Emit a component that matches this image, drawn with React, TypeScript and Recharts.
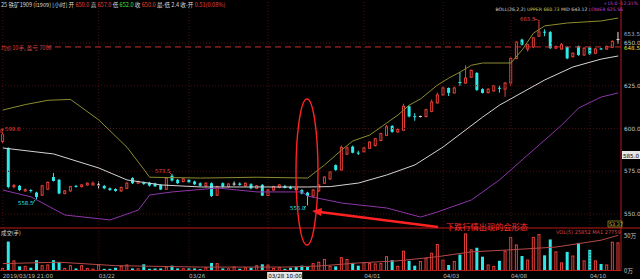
import React from "react";
import { Bar, ComposedChart, Line, ReferenceLine, XAxis, YAxis } from "recharts";

// hourly candles, i1909 iron ore
const OPEN = [
  592.4, 588.6, 566, 566.5, 563.5, 564, 562.5, 561, 564.5, 571.6,
  570, 562, 563.5, 566.4, 566, 567, 567, 567, 566.4, 565,
  564.6, 563.5, 565, 571, 568, 568.3, 568.3, 567.8, 567, 564.5,
  572.4, 570, 569, 570, 569, 568, 566.5, 568, 561, 568,
  566, 567.5, 567.8, 566.5, 567.4, 565, 567, 560.8, 564, 565.5,
  566.3, 565.8, 565.4, 564, 562.5, 560.5, 563.5, 568, 570.5, 578.6,
  575.7, 585, 589.4, 585.9, 586.3, 588.4, 590, 593, 596, 601.5,
  598, 599, 613, 607.2, 607, 607, 610, 615, 619.6, 623.7,
  620.8, 627.2, 626.6, 630, 632.5, 623, 621, 622, 623.8, 623,
  626.6, 641, 652, 646.5, 647.7, 654, 656.6, 656.4, 647, 646.5,
  647.7, 642, 648, 643, 647.5, 644, 646.8, 646.5, 647.5, 652,
];
const HIGH = [
  599.6, 589, 567.5, 567, 565, 564.5, 563, 567, 569, 574,
  570.5, 564, 566.5, 567, 567.5, 568.5, 569, 569, 567, 565.5,
  565, 566, 568.5, 571.5, 569.5, 569, 568.8, 568.3, 567.5, 571.5,
  573.5, 570.5, 571, 570.5, 569.5, 568.5, 568.5, 568.5, 566.5, 568.5,
  568, 569, 568.5, 568.5, 568, 567, 567.5, 564.5, 566.5, 567.5,
  567, 566.5, 566, 564.5, 563, 564.5, 567.5, 572, 575, 579,
  590, 589.5, 590, 587, 589, 592.5, 594.5, 597.5, 602, 602,
  600, 614.5, 613.5, 609, 607.5, 611.5, 617, 621, 624.5, 624,
  624.5, 633, 637, 634.5, 633, 623.5, 623.5, 625.5, 625, 627,
  641.5, 651, 652.5, 649.5, 653.5, 663.5, 658, 657, 648.5, 650,
  648, 644.5, 648.5, 647.5, 648, 647, 647.2, 648.5, 651.5, 656.5,
];
const LOW = [
  591.5, 565, 565, 563.5, 563, 562.5, 558.5, 560.5, 564, 569,
  561.5, 561.5, 563, 565.5, 565.5, 566.5, 566.5, 564.5, 564.5, 563.5,
  563, 563, 564.5, 567.5, 567.5, 567, 566, 565.8, 564, 564,
  569, 567.5, 568.5, 568, 567, 566, 566, 560, 560.5, 565.5,
  565.5, 566.5, 566.5, 566, 564.5, 564.5, 560.5, 560.5, 563.5, 565,
  565, 564.5, 563.5, 561.5, 555, 559.5, 563, 567.5, 570, 575,
  575.5, 584.5, 585.5, 584.5, 586, 588, 589.5, 592.5, 595.5, 597.5,
  597.5, 598.5, 606.5, 604.5, 606.5, 606.5, 609.5, 614.5, 619, 619,
  620.5, 625, 626, 629.5, 622, 620.5, 620.5, 621.5, 621, 618.5,
  625, 640.5, 648.5, 645, 647, 653.5, 654, 646.5, 646.5, 646,
  640.5, 641.5, 642.5, 642.5, 643, 643.5, 646, 646, 647, 649.5,
];
const CLOSE = [
  596.5, 565.8, 566.6, 564, 564.2, 563.6, 560, 566.5, 568.5, 569.3,
  562, 563.5, 566, 565.8, 567, 568, 568, 567, 565, 564,
  563.5, 565.5, 568, 568, 569, 567.6, 566.6, 566.2, 564.3, 571,
  569.5, 568, 570.5, 568.5, 567.4, 566.5, 568, 560.5, 566, 566,
  567.5, 567.5, 567, 568, 565, 566.5, 560.7, 564, 566, 567,
  565.2, 564.8, 564, 562, 560.5, 564, 567, 571.6, 574.6, 575.7,
  589, 588.6, 585.8, 585.5, 588.6, 592, 594, 597, 601, 598,
  599.5, 613, 607, 606.8, 607, 611, 615.5, 619.6, 623.7, 620.8,
  623.7, 626.8, 629.5, 634, 622.5, 620.8, 623, 625, 623.4, 626.6,
  641, 650.5, 649, 649, 653, 656.5, 656.2, 647, 648, 649,
  641, 644, 643, 647, 643.5, 646.5, 646.3, 648, 651, 652,
];
// volume in 万手
const VOLUME = [
  3, 42, 14, 6, 6, 4, 15, 7, 8, 15,
  12, 3, 7, 3, 7, 3, 2, 8, 2.4, 2.4,
  4, 6, 8, 3, 2.5, 9, 2.5, 3, 3, 5,
  7, 3, 2.5, 3, 3, 2, 4, 11, 10, 3,
  2.5, 5, 2.5, 4, 4, 7, 9, 8, 3, 4,
  2.5, 4, 5, 7, 5, 10, 12, 16, 6, 6,
  18.6, 16, 11, 7, 11, 10, 9.5, 10, 20, 15,
  6, 28, 14, 7, 13, 17.6, 25, 37.6, 15, 8,
  13, 23, 53, 30, 33, 20, 8, 6, 14, 28,
  48, 37, 21, 15, 48, 52, 22, 45, 27, 11,
  27, 21, 40, 14, 30, 14, 9.5, 8, 41, 40,
];

// BOLL(26,2,2): [candle index, price]
const BOLL_UPPER = [
  [0, 610.8], [4, 614], [8, 616.5], [12, 617], [17, 605], [22, 589], [25, 576],
  [26, 571.5], [35, 571], [45, 571.5], [54, 571], [57, 578.7], [60, 587.4],
  [62, 592.7], [65, 596.2], [68, 603.2], [70, 607.9], [72, 613.7], [74, 617.3],
  [77, 625.4], [79, 629.5], [81, 633], [83, 637], [85, 638.3], [90, 638.3],
  [92, 646], [94, 655.8], [96, 660], [100, 661.7], [106, 662.9], [109, 664.6],
];
const BOLL_MID = [
  [0, 588.6], [9, 585.1], [17, 576.9], [22, 569.9], [28, 567], [35, 565.8],
  [54, 565.8], [58, 566], [63, 568.1], [68, 572.8], [73, 578.7], [78, 589.2],
  [85, 606.7], [88, 613.7], [96, 628.4], [101, 636], [106, 640.6], [109, 642.4],
];
const BOLL_LOWER = [
  [0, 564], [5, 560], [11, 549.4], [19, 546.5], [24, 552.3], [26, 561.1],
  [30, 562.9], [38, 565.2], [45, 562.9], [53, 562.9], [54, 560.5], [60, 556.4],
  [68, 553.5], [74, 548.2], [77, 551.2], [83, 558.2], [88, 570], [95, 590.4],
  [99, 602], [102, 612], [106, 618.4], [109, 620.8],
];
const VOL_MA = [
  [0, 10], [10, 12], [20, 7], [35, 5], [50, 5], [56, 6.5], [63, 11], [70, 14],
  [77, 20], [83, 27], [90, 30], [98, 34], [106, 44], [109, 51],
];

const TICK_IDX = [0, 17, 33, 47, 64, 78, 90, 104];
const TICK_LABELS = ["2019/03/19 21:00", "03/22", "03/26", "03/28 10:00", "04/01", "04/03", "04/08", "04/10"];
const PRICE_TICKS = [550, 575, 600, 625, 650];
const VOL_TICKS = [0, 50];

const RED = "#e8403a";
const CYAN = "#30e8e8";
const AXIS = "#b81c1c";
const GRID = "#4a1010";
const FONT = '"DejaVu Sans", "Noto Sans CJK SC", sans-serif';
const CJK = '"Noto Sans CJK SC", sans-serif';

const N = OPEN.length;
const spread = (pts: number[][]) => {
  const arr: (number | null)[] = Array(N).fill(null);
  pts.forEach(([i, v]) => (arr[i] = v));
  return arr;
};
const upperArr = spread(BOLL_UPPER);
const midArr = spread(BOLL_MID);
const lowerArr = spread(BOLL_LOWER);
const vmaArr = spread(VOL_MA);

const rows = OPEN.map((o, i) => ({
  i,
  o,
  c: CLOSE[i],
  hl: [LOW[i], HIGH[i]],
  vol: VOLUME[i],
  upper: upperArr[i],
  mid: midArr[i],
  lower: lowerArr[i],
  vma: vmaArr[i],
}));

function Candle(props: any) {
  const { x, y, width, height, payload } = props;
  if (!payload) return null;
  const [lo, hi] = payload.hl;
  const top = Math.min(y, y + height);
  const h = Math.abs(height);
  const py = (v: number) => top + ((hi - v) / (hi - lo)) * h;
  const cx = x + width / 2;
  const yo = py(payload.o);
  const yc = py(payload.c);
  const bTop = Math.min(yo, yc);
  const bBot = Math.max(yo, yc);
  if (payload.c > payload.o) {
    return (
      <g stroke={RED} strokeWidth={1} fill="#000">
        <line x1={cx} x2={cx} y1={top} y2={bTop} />
        <line x1={cx} x2={cx} y1={bBot} y2={top + h} />
        <rect x={x + 0.5} y={bTop} width={width - 1} height={Math.max(bBot - bTop, 0.5)} />
      </g>
    );
  }
  if (payload.c < payload.o) {
    return (
      <g>
        <line x1={cx} x2={cx} y1={top} y2={top + h} stroke={CYAN} strokeWidth={1} />
        <rect x={x} y={bTop} width={width} height={Math.max(bBot - bTop, 1)} fill={CYAN} />
      </g>
    );
  }
  return (
    <g stroke="#e0e0e0" strokeWidth={1}>
      <line x1={cx} x2={cx} y1={top} y2={top + h} />
      <line x1={x} x2={x + width} y1={yo} y2={yo} />
    </g>
  );
}

function VolBar(props: any) {
  const { x, y, width, height, payload } = props;
  if (!payload) return null;
  const top = Math.min(y, y + height);
  const h = Math.abs(height);
  if (payload.c < payload.o) {
    return <rect x={x} y={top} width={width} height={h} fill={CYAN} />;
  }
  return (
    <rect x={x + 0.5} y={top} width={width - 1} height={h} fill="#000" stroke={RED} strokeWidth={1} />
  );
}

function DateTick(props: any) {
  const { x, y, payload } = props;
  const k = TICK_IDX.indexOf(payload.value);
  if (k < 0) return null;
  const label = TICK_LABELS[k];
  if (label === "03/28 10:00") {
    return (
      <g>
        <rect x={x - 1} y={y + 1.5} width={35} height={7} fill="#e6e6e6" />
        <text x={x} y={y + 7} fontSize={5.6} fontFamily={FONT} fill="#000">
          {label}
        </text>
      </g>
    );
  }
  return (
    <text x={x} y={y + 7} fontSize={5.6} fontFamily={FONT} fill="#bdbdbd">
      {label}
    </text>
  );
}

export default function App() {
  return (
    <div style={{ position: "fixed", left: 0, top: 0, width: 640, height: 279, background: "#000", overflow: "hidden" }}>
      <ComposedChart
        width={640}
        height={228}
        data={rows}
        margin={{ top: 0, right: 0, bottom: 0, left: 0 }}
        barCategoryGap="20%"
      >
        <XAxis dataKey="i" type="category" hide />
        <YAxis
          orientation="right"
          width={19}
          domain={[541.8, 675.15]}
          allowDataOverflow
          ticks={PRICE_TICKS}
          interval={0}
          tickLine={false}
          tickSize={0}
          tickMargin={3}
          axisLine={{ stroke: AXIS }}
          tick={{ fill: "#c8c8c8", fontSize: 5.8, fontFamily: FONT }}
          tickFormatter={(v: number) => v.toFixed(1)}
        />
        {PRICE_TICKS.map((p) => (
          <ReferenceLine key={p} y={p} stroke={GRID} strokeDasharray="1 2" />
        ))}
        {TICK_IDX.map((t) => (
          <ReferenceLine key={t} x={t} stroke={GRID} strokeDasharray="1 2" />
        ))}
        <ReferenceLine y={647.7} stroke="#c83030" strokeDasharray="6 4" />
        <Line dataKey="upper" type="linear" stroke="#8c8c30" strokeWidth={1} dot={false} activeDot={false} connectNulls isAnimationActive={false} />
        <Line dataKey="mid" type="linear" stroke="#d4d4d4" strokeWidth={1} dot={false} activeDot={false} connectNulls isAnimationActive={false} />
        <Line dataKey="lower" type="linear" stroke="#8e35a8" strokeWidth={1} dot={false} activeDot={false} connectNulls isAnimationActive={false} />
        <Bar dataKey="hl" shape={(p: any) => <Candle {...p} />} activeBar={false} isAnimationActive={false} />
      </ComposedChart>

      <div style={{ position: "absolute", left: 0, top: 228 }}>
        <ComposedChart
          width={640}
          height={51}
          data={rows}
          margin={{ top: 0, right: 0, bottom: 0, left: 0 }}
          barCategoryGap="20%"
        >
          <XAxis
            dataKey="i"
            type="category"
            ticks={TICK_IDX}
            interval={0}
            height={8.5}
            tickLine={false}
            tickSize={0}
            tickMargin={0}
            axisLine={{ stroke: AXIS }}
            tick={<DateTick />}
          />
          <YAxis
            orientation="right"
            width={19}
            domain={[0, 61.6]}
            allowDataOverflow
            ticks={VOL_TICKS}
            interval={0}
            tickLine={false}
            tickSize={0}
            tickMargin={3}
            axisLine={{ stroke: AXIS }}
            tick={{ fill: "#c8c8c8", fontSize: 5.8, fontFamily: CJK }}
            tickFormatter={(v: number) => `${v}万`}
          />
          {TICK_IDX.map((t) => (
            <ReferenceLine key={t} x={t} stroke={GRID} strokeDasharray="1 2" />
          ))}
          <Bar dataKey="vol" shape={(p: any) => <VolBar {...p} />} activeBar={false} isAnimationActive={false} />
          <Line dataKey="vma" type="linear" stroke="#b84848" strokeWidth={1} dot={false} activeDot={false} connectNulls isAnimationActive={false} />
        </ComposedChart>
      </div>

      <svg width={640} height={279} style={{ position: "absolute", left: 0, top: 0, pointerEvents: "none" }}>
        <line x1={0} x2={640} y1={228} y2={228} stroke="#c01818" strokeWidth={1} />
        <text x={1} y={7} fontSize={5.6} fontFamily={CJK} fill="#d8d8d8">
          25 铁矿1909 (i1909) [小时] 开<tspan fill={RED}> 650.0</tspan> 高<tspan fill={RED}> 657.0</tspan> 低
          <tspan fill="#40e040"> 652.0</tspan> 收<tspan fill={RED}> 650.0</tspan> 最-低 2.4 收-开
          <tspan fill={RED}> 0.51(0.08%)</tspan>
        </text>
        <text x={638} y={5} textAnchor="end" fontSize={4.6} fontFamily={FONT} fill="#c040c0">+15.0 -12.31%</text>
        <text x={623} y={11} textAnchor="end" fontSize={4.6} fontFamily={FONT} fill="#d8d8d8">
          BOLL(26,2,2)<tspan fill="#c8c850"> UPPER 660.73</tspan> MID 643.12
          <tspan fill="#c040d0"> LOWER 625.56</tspan>
        </text>

        <rect x={0} y={43} width={47} height={8} fill="#000" />
        <text x={1} y={49.5} fontSize={5.6} fontFamily={CJK} fill="#d84040">均价10手, 盈亏 7000</text>

        <text x={624} y={36} fontSize={5.6} fontFamily={FONT} fill="#9ab4d4">653.5</text>
        <text x={624} y={50} fontSize={5.6} fontFamily={FONT} fill="#e0e040">648.5</text>
        <rect x={622} y={151} width={18} height={8} fill="#e6e6e6" />
        <text x={623} y={157.5} fontSize={5.6} fontFamily={FONT} fill="#000">585.0</text>

        <text x={5} y={131} fontSize={5.4} fontFamily={FONT} fill={RED}>599.6</text>
        <path d="M1 133 L1 129 L4 129" stroke={RED} fill="none" strokeWidth={0.8} />
        <text x={18} y={205} fontSize={5.4} fontFamily={FONT} fill={CYAN}>558.5</text>
        <line x1={33} y1={203} x2={35} y2={200} stroke={CYAN} strokeWidth={0.8} />
        <text x={155} y={173} fontSize={5.4} fontFamily={FONT} fill={RED}>573.5</text>
        <line x1={169} y1={172} x2={171} y2={174} stroke={RED} strokeWidth={0.8} />
        <text x={290} y={210} fontSize={5.4} fontFamily={FONT} fill={CYAN}>555.0</text>
        <line x1={304} y1={208} x2={306} y2={206} stroke={CYAN} strokeWidth={0.8} />
        <text x={520} y={21} fontSize={5.4} fontFamily={FONT} fill={RED}>663.5</text>
        <line x1={534} y1={19} x2={538} y2={20} stroke={RED} strokeWidth={0.8} />

        <rect x={608} y={221} width={14} height={6} fill="#000" stroke="#c8b830" strokeWidth={0.6} />
        <text x={609} y={226} fontSize={4.8} fontFamily={FONT} fill="#e0d040">53.37</text>
        <text x={1} y={235} fontSize={5.4} fontFamily={CJK} fill="#d8d8d8">成交(手)</text>
        <text x={556} y={234} fontSize={5} fontFamily={FONT} fill="#d84040">VOL(5) 25852 MA1 27759</text>

        <ellipse cx={307} cy={172} rx={11} ry={73} fill="none" stroke="#ff2222" strokeWidth={1.4} />
        <line x1={438} y1={227} x2={320} y2={212} stroke="#ff2222" strokeWidth={2.4} />
        <polygon points="312,211 322,208 321,216" fill="#ff2222" />
        <text x={446} y={230} fontSize={8.2} fontFamily={CJK} fill="#ff2a2a">下跌行情出现的会形态</text>
      </svg>
    </div>
  );
}
